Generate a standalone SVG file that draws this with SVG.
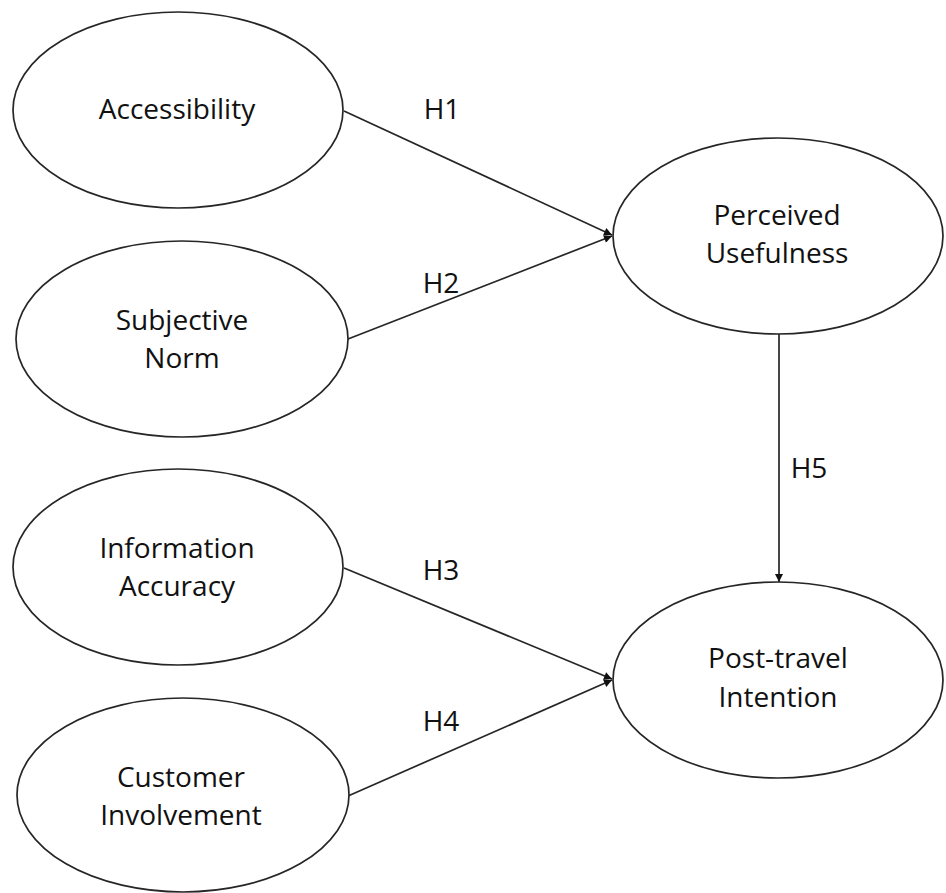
<svg xmlns="http://www.w3.org/2000/svg" width="946" height="893" viewBox="0 0 946 893">
<style>
.node ellipse{fill:#fff;stroke:#262626;stroke-width:1.7}
text{font-family:"Open Sans","Liberation Sans",sans-serif;font-size:28px;fill:#111;text-anchor:middle}
.conn line{stroke:#262626;stroke-width:1.7}
</style>
<defs>
<marker id="arr" viewBox="0 0 10 10" refX="10" refY="5" markerWidth="9" markerHeight="8" markerUnits="userSpaceOnUse" orient="auto">
<path d="M0,0 L10,5 L0,10 z" fill="#111"/>
</marker>
</defs>
<rect width="946" height="893" fill="#fff"/>
<g id="connectors" class="conn">
<line x1="344" y1="111" x2="612" y2="235" marker-end="url(#arr)"/>
<line x1="348" y1="339" x2="612" y2="236" marker-end="url(#arr)"/>
<line x1="344" y1="568" x2="612" y2="679" marker-end="url(#arr)"/>
<line x1="348" y1="796" x2="612" y2="680" marker-end="url(#arr)"/>
<line x1="779" y1="334" x2="779" y2="582" marker-end="url(#arr)"/>
<text x="442" y="119">H1</text>
<text x="441" y="293">H2</text>
<text x="441" y="580">H3</text>
<text x="441" y="731">H4</text>
<text x="809" y="478">H5</text>
</g>
<g id="accessibility" class="node">
<ellipse cx="178" cy="110" rx="165" ry="98"/>
<text x="177" y="119">Accessibility</text>
</g>
<g id="subjective-norm" class="node">
<ellipse cx="182" cy="339" rx="166" ry="98"/>
<text x="182" y="330">Subjective</text>
<text x="182" y="368">Norm</text>
</g>
<g id="information-accuracy" class="node">
<ellipse cx="178" cy="567" rx="165" ry="98"/>
<text x="177" y="558">Information</text>
<text x="177" y="596">Accuracy</text>
</g>
<g id="customer-involvement" class="node">
<ellipse cx="183" cy="795" rx="166" ry="97"/>
<text x="181" y="787">Customer</text>
<text x="181" y="825">Involvement</text>
</g>
<g id="perceived-usefulness" class="node">
<ellipse cx="778" cy="236" rx="165" ry="98"/>
<text x="777" y="225">Perceived</text>
<text x="777" y="263">Usefulness</text>
</g>
<g id="post-travel-intention" class="node">
<ellipse cx="778" cy="680" rx="165" ry="98"/>
<text x="778" y="668">Post-travel</text>
<text x="778" y="707">Intention</text>
</g>
</svg>
